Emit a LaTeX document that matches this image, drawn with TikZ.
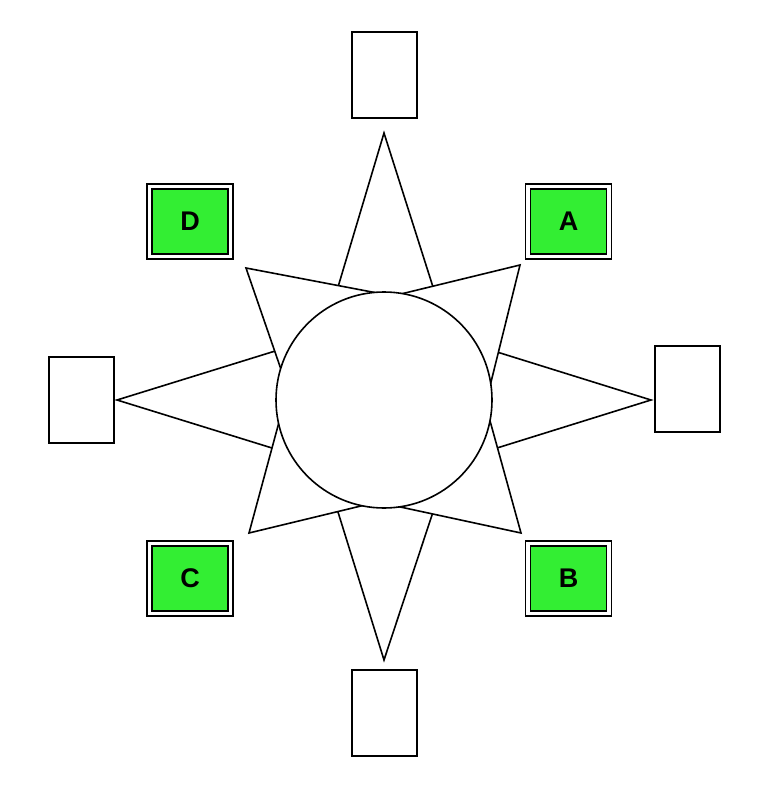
\documentclass[tikz,border=0pt]{standalone}
\usepackage{fontspec}
\setmainfont{Liberation Sans}
\usetikzlibrary{calc}
\begin{document}
\begin{tikzpicture}[x=1pt,y=-1pt,
  line width=1.6pt,
  wbox/.style={draw,fill=white,minimum width=65pt,minimum height=86pt,inner sep=0pt},
  gbox/.style={draw,fill=white,minimum width=86pt,minimum height=75pt,inner sep=0pt},
  gin/.style={draw,minimum width=76pt,minimum height=65pt,inner sep=0pt,font=\bfseries\fontsize{27}{30}\selectfont},
  spike/.style={draw,fill=white,line join=miter}]
\useasboundingbox (0,0) rectangle (766,802);
\definecolor{gr}{RGB}{51,238,51}
\tikzset{gin/.append style={fill=gr}}
\newcommand{\myspike}[3]{\draw[spike] (#1) -- ($(#1)!1.35!(#2)$) -- ($(#1)!1.35!(#3)$) -- cycle;}
% spikes
\myspike{384,133}{338,287}{433,287}
\myspike{384,660}{338,512}{433,512}
\myspike{117,400}{272,352}{272,448}
\myspike{651,400}{497,352}{497,448}
\myspike{520,265}{405,293}{492,378}
\myspike{246,268}{372,292}{275,352}
\myspike{249,533}{272,448}{365,505}
\myspike{521,533}{492,428}{405,508}
\node[draw,fill=white,circle,minimum size=216pt,inner sep=0pt] (c) at (384,400) {};
% white boxes
\node[wbox] (t) at (384.5,75) {};
\node[wbox] (b) at (384.5,713) {};
\node[wbox] (l) at (81.5,400) {};
\node[wbox] (r) at (687.5,389) {};
% green boxes
\foreach \n/\x/\y in {A/568.5/221.5, D/190/221.5, C/190/578.5, B/568.5/578.5}{
  \node[gbox] (o\n) at (\x,\y) {};
  \node[gin] (\n) at (\x,\y) {\n};
}
\end{tikzpicture}
\end{document}
